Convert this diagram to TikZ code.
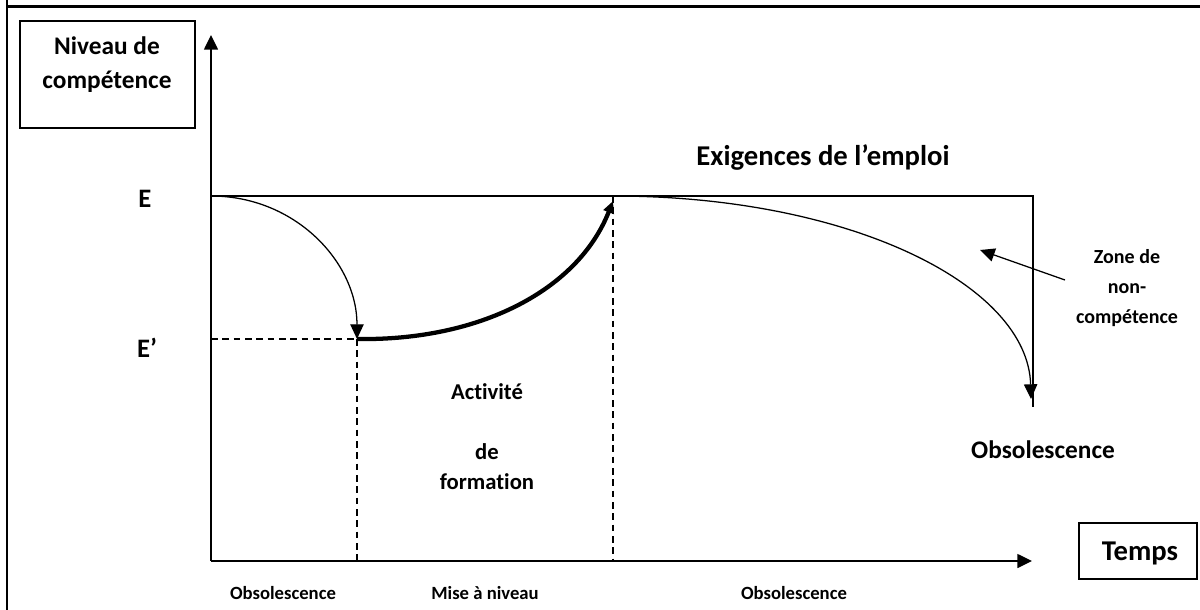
\documentclass[tikz,border=0pt]{standalone}
\usepackage{fontspec}
\setmainfont{Carlito}[Ligatures=NoCommon]
\usetikzlibrary{arrows.meta}
\begin{document}
\begin{tikzpicture}[x=0.75pt,y=-0.75pt,
  txt/.style={font=\bfseries, inner sep=0pt, align=center},
  axis/.style={line width=1.1pt, -{Triangle[length=11pt,width=10.5pt]}},
  thin/.style={line width=0.95pt},
  dsh/.style={line width=0.95pt, dash pattern=on 5pt off 3.5pt},
  tip/.style={-{Triangle[length=11pt,width=10pt]}},
  boxed/.style={draw, line width=0.95pt, inner sep=0pt}]
\useasboundingbox (0,0) rectangle (1200,610);
% frame
\draw[line width=1.8pt] (7,0) -- (7,610);
\draw[line width=1.8pt] (7,6.5) -- (1200,6.5);
% boxes
\node[boxed, minimum width=131.25pt, minimum height=80.25pt] (nbox) at (107.5,74.5) {};
\node[txt, font=\bfseries\fontsize{19}{25.5}\selectfont] (niv) at (107,65) {Niveau de\\compétence};
\node[boxed, minimum width=88.5pt, minimum height=42pt] (tbox) at (1138,551) {};
\node[txt, font=\bfseries\fontsize{21.5}{25}\selectfont] (temps) at (1140,553) {Temps};
% coordinates
\coordinate (O) at (211,561);
\coordinate (Ytop) at (211,35);
\coordinate (Xend) at (1032,561);
\coordinate (E0) at (211,196);
\coordinate (E1) at (1033,196);
\coordinate (Vb) at (1033,407);
\coordinate (A) at (357,339);
\coordinate (Ab) at (357,561);
\coordinate (Ea) at (211,339);
\coordinate (B) at (613,196);
\coordinate (Bb) at (613,561);
\coordinate (Btip) at (613,201);
\coordinate (C) at (1031,399);
\coordinate (Zs) at (1065,280);
\coordinate (Zt) at (980,250);
% axes
\draw[axis] (O) -- (Ytop);
\draw[axis] (O) -- (Xend);
% E line
\draw[thin] (E0) -- (E1) -- (Vb);
% dashed
\draw[dsh] (Ea) -- (A);
\draw[dsh] (A) -- (Ab);
\draw[dsh] (B) -- (Bb);
% curves
\draw[thin, tip] (E0) .. controls (295,196) and (357,262) .. (A);
\draw[line width=3.2pt, -{Triangle[length=9pt,width=8pt]}] (A) .. controls (480,341) and (578,290) .. (Btip);
\draw[thin, tip] (B) .. controls (850,196) and (1028,285) .. (C);
\draw[thin, tip] (Zs) -- (Zt);
% labels
\node[txt, font=\bfseries\fontsize{20}{24}\selectfont] (E) at (145,199) {E};
\node[txt, font=\bfseries\fontsize{20}{24}\selectfont] (Ep) at (147,348) {E’};
\node[txt, font=\bfseries\fontsize{21.5}{25}\selectfont] (exig) at (823,157) {Exigences de l’emploi};
\node[txt, font=\bfseries\fontsize{15}{22.5}\selectfont] (zone) at (1127,288) {Zone de\\non-\\compétence};
\node[txt, font=\bfseries\fontsize{17}{22.5}\selectfont] (act) at (487,437) {Activité\\[22.5pt]de\\formation};
\node[txt, font=\bfseries\fontsize{19}{24}\selectfont] (obs) at (1043,450) {Obsolescence};
\node[txt, font=\bfseries\fontsize{14}{18}\selectfont] (o1) at (283,593) {Obsolescence};
\node[txt, font=\bfseries\fontsize{14}{18}\selectfont] (mn) at (485,593) {Mise à niveau};
\node[txt, font=\bfseries\fontsize{14}{18}\selectfont] (o2) at (794,593) {Obsolescence};
\end{tikzpicture}
\end{document}
